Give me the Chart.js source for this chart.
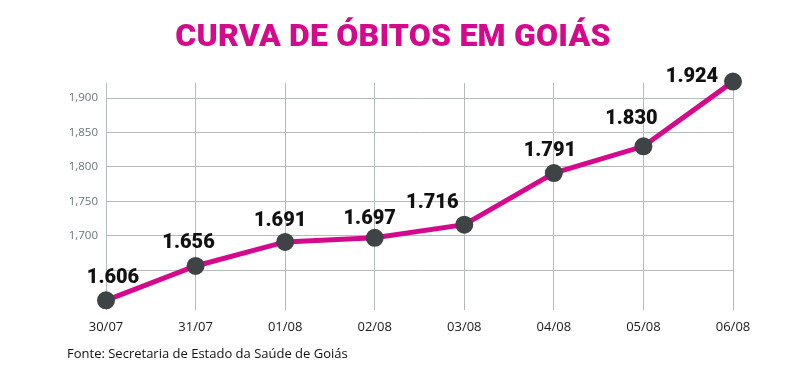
<!DOCTYPE html>
<html>
<head>
<meta charset="utf-8">
<script src="https://cdn.jsdelivr.net/npm/chart.js@4"></script>
<style>
  body { margin: 0; background: #fff; }
  #wrap { position: relative; width: 800px; height: 387px; }
  #titulo { position: absolute; left: 0; top: 16px; width: 786px; text-align: center;
    font-family: Roboto, sans-serif; font-weight: 900; font-size: 32px; color: #d5098c; letter-spacing: 0.2px; }
  #fonte { position: absolute; left: 67px; top: 344px; font-family: "Open Sans", sans-serif;
    font-size: 13px; color: #111; }
  canvas { position: absolute; left: 0; top: 0; }
</style>
</head>
<body>
<div id="wrap">
  <canvas id="grafico" width="800" height="387"></canvas>
  <div id="titulo">CURVA DE ÓBITOS EM GOIÁS</div>
  <div id="fonte">Fonte: Secretaria de Estado da Saúde de Goiás</div>
</div>
<script>
const datas = ['30/07', '31/07', '01/08', '02/08', '03/08', '04/08', '05/08', '06/08']
const obitos = [1606, 1656, 1691, 1697, 1716, 1791, 1830, 1924]
const rotulos = ['1.606', '1.656', '1.691', '1.697', '1.716', '1.791', '1.830', '1.924']
// deslocamento dos rotulos em relacao ao ponto
const desloc = [[7, -22], [-7, -23], [-5, -21], [-5, -19], [-32, -22], [-4, -22], [-12, -27], [-41, -5]]

const rotulosPlugin = {
    id: 'rotulos',
    afterDatasetsDraw(chart) {
        const ctx = chart.ctx
        const meta = chart.getDatasetMeta(0)
        ctx.save()
        ctx.font = '900 20px Roboto, sans-serif'
        ctx.fillStyle = '#111'
        ctx.textAlign = 'center'
        ctx.textBaseline = 'middle'
        meta.data.forEach((p, i) => {
            ctx.fillText(rotulos[i], p.x + desloc[i][0], p.y + desloc[i][1])
        })
        ctx.restore()
    }
}

var ctx = document.getElementById('grafico').getContext('2d');
var grafico = new Chart(ctx, {
    type: 'line',
    data: {
        labels: datas,
        datasets: [{
            data: obitos,
            borderColor: '#d5098c',
            borderWidth: 5,
            pointBackgroundColor: '#3e4446',
            pointBorderColor: '#3e4446',
            pointRadius: 6.5,
            tension: 0,
            clip: false
        }]
    },
    options: {
        responsive: false,
        animation: false,
        layout: { padding: { left: 0, right: 67, top: 83, bottom: 47 } },
        plugins: { legend: { display: false }, tooltip: { enabled: false } },
        scales: {
            x: {
                offset: false,
                border: { display: false },
                grid: { color: '#b4bbbb', lineWidth: 1, drawTicks: false },
                ticks: { color: '#1a1a1a', font: { family: 'Open Sans', size: 13 }, padding: 9, maxRotation: 0 },
                afterFit(s) { s.height = 30 }
            },
            y: {
                min: 1592,
                max: 1922,
                border: { display: false },
                grid: {
                    color: c => c.tick && c.tick.value >= 1650 ? '#b4bbbb' : 'rgba(0,0,0,0)',
                    lineWidth: 1,
                    drawTicks: false
                },
                ticks: {
                    stepSize: 50,
                    includeBounds: false,
                    color: '#6b7676',
                    font: { family: 'Open Sans', size: 11.5 },
                    padding: 8,
                    callback: v => v >= 1700 ? (v / 1000).toFixed(3).replace('.', ',') : ''
                },
                afterFit(s) { s.width = 106 }
            }
        }
    },
    plugins: [rotulosPlugin]
});
</script>
</body>
</html>
